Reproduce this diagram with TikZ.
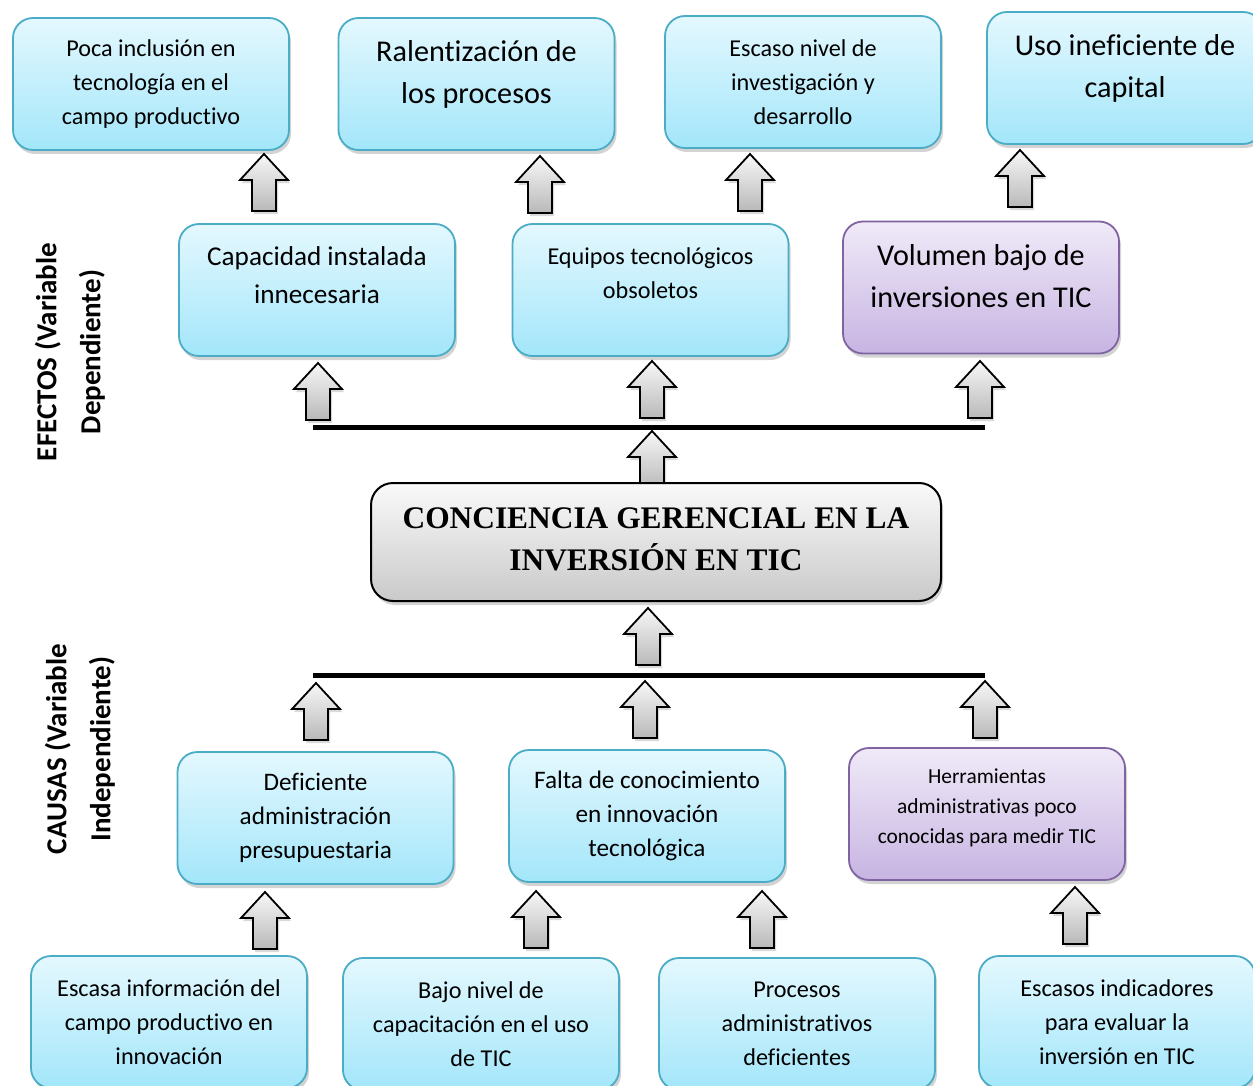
\documentclass[tikz,border=0pt]{standalone}
\usepackage{fontspec}
\setmainfont{Carlito}[Ligatures=NoCommon]
\newfontfamily\titlefont{Liberation Serif}
\usepackage{xcolor}
\usepackage{tikz}
\usetikzlibrary{shadows}
\definecolor{cyanline}{HTML}{4BACC6}
\definecolor{cyantop}{HTML}{E4F8FE}
\definecolor{cyanbot}{HTML}{A3E6FA}
\definecolor{lilacline}{HTML}{8064A2}
\definecolor{lilactop}{HTML}{F0EAF8}
\definecolor{lilacbot}{HTML}{C7B4E2}
\newcommand{\dropline}[1]{\rule[-#1]{0pt}{#1}}

\tikzset{
    cyanbox/.style={draw=cyanline, line width=0.9pt, top color=cyantop, bottom color=cyanbot,
        rounded corners=10pt, minimum width=138pt, minimum height=66pt, align=center,
        drop shadow={opacity=0.35, shadow xshift=1pt, shadow yshift=-2pt}},
    lilacbox/.style={cyanbox, draw=lilacline, top color=lilactop, bottom color=lilacbot},
    centerbox/.style={draw=black, line width=1pt, top color=gray!4, bottom color=gray!42,
        rounded corners=11pt, minimum width=285pt, minimum height=59pt, align=center,
        font=\titlefont\bfseries\fontsize{15.7}{21}\selectfont,
        drop shadow={opacity=0.35, shadow xshift=1pt, shadow yshift=-2pt}},
    sidelabel/.style={align=center, font=\bfseries\fontsize{14.5}{22}\selectfont, rotate=90},
    txtsm/.style={font=\fontsize{12.1}{17}\selectfont},
    txtmd/.style={font=\fontsize{13.6}{19}\selectfont},
    txtlg/.style={font=\fontsize{15.1}{21}\selectfont},
    bar/.style={line width=2.5pt, line cap=butt},
    uparrow/.pic={
        \path[draw=black, line width=0.9pt, top color=gray!6, bottom color=gray!55,
            drop shadow={opacity=0.3, shadow xshift=1pt, shadow yshift=-1.5pt}]
            (0,0) -- (24,26) -- (12,26) -- (12,57) -- (-12,57) -- (-12,26) -- (-24,26) -- cycle;
    }
}

\begin{document}
\begin{tikzpicture}[x=0.5pt, y=-0.5pt]
    \path[use as bounding box, clip] (0,0) rectangle (1253,1086);

    % efectos
    \node[cyanbox, txtsm] (poca) at (151,84) {Poca inclusión en\\tecnología en el\\campo productivo};
    \node[cyanbox, txtlg] (ralent) at (476.5,84) {Ralentización de\\los procesos\dropline{12pt}};
    \node[cyanbox, txtsm] (escaso) at (803,82) {Escaso nivel de\\investigación y\\desarrollo};
    \node[cyanbox, txtlg] (uso) at (1125,78) {Uso ineficiente de\\capital\dropline{12pt}};

    \node[cyanbox, txtmd] (capac) at (317,290) {Capacidad instalada\\innecesaria\dropline{15pt}};
    \node[cyanbox, txtsm] (equipos) at (650.5,290) {Equipos tecnológicos\\obsoletos\dropline{17pt}};
    \node[lilacbox, txtlg] (volumen) at (981,287.5) {Volumen bajo de\\inversiones en TIC\dropline{11pt}};

    \pic (a1) at (264,154) {uparrow};
    \pic (a2) at (540,156) {uparrow};
    \pic (a3) at (750,154) {uparrow};
    \pic (a4) at (1020,150) {uparrow};

    \pic (a5) at (318,363) {uparrow};
    \pic (a6) at (652,361) {uparrow};
    \pic (a7) at (980,361) {uparrow};

    \coordinate (efl) at (313,427);
    \coordinate (efr) at (985,427);
    \draw[bar] (efl) -- (efr);

    % problema central
    \pic (a8) at (652,431) {uparrow};
    \node[centerbox] (conciencia) at (656,542) {CONCIENCIA GERENCIAL EN LA\\INVERSIÓN EN TIC\dropline{3pt}};
    \pic (a9) at (648,608) {uparrow};

    \coordinate (cal) at (313,675);
    \coordinate (car) at (985,675);
    \draw[bar] (cal) -- (car);

    % causas
    \pic (a10) at (316,683) {uparrow};
    \pic (a11) at (645,681) {uparrow};
    \pic (a12) at (985,681) {uparrow};

    \node[cyanbox, font=\fontsize{12.6}{17}\selectfont] (deficiente) at (315.5,818) {Deficiente\\administración\\presupuestaria};
    \node[cyanbox, font=\fontsize{12.6}{17}\selectfont] (falta) at (647,816) {Falta de conocimiento\\en innovación\\tecnológica};
    \node[lilacbox, font=\fontsize{10.7}{15}\selectfont] (herram) at (987,814) {Herramientas\\administrativas poco\\conocidas para medir TIC\dropline{8pt}};

    \pic (a13) at (265,892) {uparrow};
    \pic (a14) at (536,891) {uparrow};
    \pic (a15) at (762,891) {uparrow};
    \pic (a16) at (1075,887) {uparrow};

    \node[cyanbox, txtsm] (escasa) at (169,1022) {Escasa información del\\campo productivo en\\innovación};
    \node[cyanbox, txtsm] (bajo) at (481,1024) {Bajo nivel de\\capacitación en el uso\\de TIC};
    \node[cyanbox, txtsm] (procesos) at (797,1024) {Procesos\\administrativos\\deficientes};
    \node[cyanbox, txtsm] (indic) at (1117,1022) {Escasos indicadores\\para evaluar la\\inversión en TIC};

    % etiquetas laterales
    \node[sidelabel] (efectos) at (70,352) {EFECTOS (Variable\\Dependiente)};
    \node[sidelabel] (causas) at (80,749) {CAUSAS (Variable\\Independiente)};
\end{tikzpicture}
\end{document}
